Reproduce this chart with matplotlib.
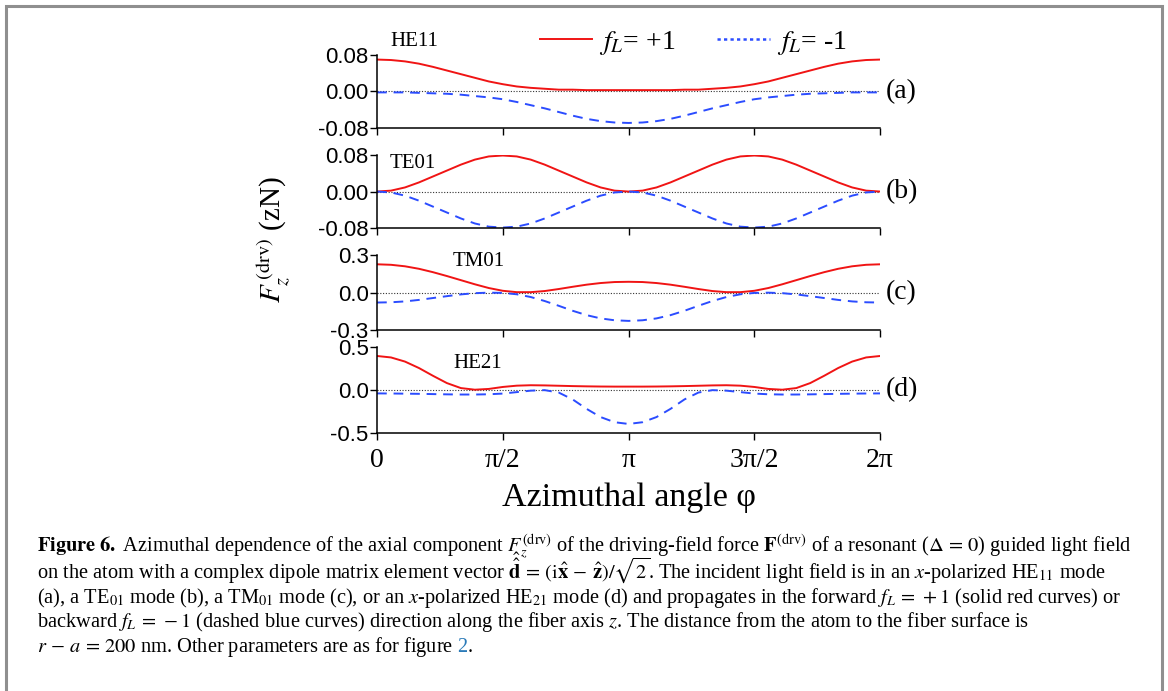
import numpy as np
import matplotlib
matplotlib.use("Agg")
import matplotlib.pyplot as plt
from matplotlib.lines import Line2D
from matplotlib.patches import Rectangle

plt.rcParams['font.family'] = 'Liberation Serif'
plt.rcParams['mathtext.fontset'] = 'stix'

# azimuthal angle grid (degrees), every 10 deg from 0 to 360
angle_deg = list(range(0, 361, 10))

# F_z^(drv) in zN, forward (f_L=+1) and backward (f_L=-1) for each mode
he11_fwd = [0.070, 0.069, 0.066, 0.061, 0.054, 0.046, 0.038, 0.030, 0.022, 0.016,
            0.011, 0.008, 0.006, 0.004, 0.004, 0.003, 0.003, 0.003, 0.003,
            0.003, 0.003, 0.003, 0.004, 0.004, 0.006, 0.008, 0.011, 0.016,
            0.022, 0.030, 0.038, 0.046, 0.054, 0.061, 0.066, 0.069, 0.070]
he11_bwd = [-0.002, -0.002, -0.002, -0.003, -0.004, -0.005, -0.007, -0.010, -0.013, -0.017,
            -0.023, -0.030, -0.037, -0.045, -0.053, -0.060, -0.065, -0.068, -0.069,
            -0.068, -0.065, -0.060, -0.053, -0.045, -0.037, -0.030, -0.023, -0.017,
            -0.013, -0.010, -0.007, -0.005, -0.004, -0.003, -0.002, -0.002, -0.002]
te01_fwd = [0.000, 0.002, 0.009, 0.020, 0.033, 0.046, 0.059, 0.070, 0.077, 0.079,
            0.077, 0.070, 0.059, 0.046, 0.033, 0.020, 0.009, 0.002, 0.000,
            0.002, 0.009, 0.020, 0.033, 0.046, 0.059, 0.070, 0.077, 0.079,
            0.077, 0.070, 0.059, 0.046, 0.033, 0.020, 0.009, 0.002, 0.000]
te01_bwd = [-0.000, -0.002, -0.009, -0.020, -0.033, -0.046, -0.059, -0.070, -0.077, -0.079,
            -0.077, -0.070, -0.059, -0.046, -0.033, -0.020, -0.009, -0.002, -0.000,
            -0.002, -0.009, -0.020, -0.033, -0.046, -0.059, -0.070, -0.077, -0.079,
            -0.077, -0.070, -0.059, -0.046, -0.033, -0.020, -0.009, -0.002, -0.000]
tm01_fwd = [0.226, 0.222, 0.210, 0.190, 0.163, 0.132, 0.099, 0.066, 0.036, 0.014,
            0.003, 0.003, 0.012, 0.028, 0.046, 0.063, 0.076, 0.084, 0.086,
            0.084, 0.076, 0.063, 0.046, 0.028, 0.012, 0.003, 0.003, 0.014,
            0.036, 0.066, 0.099, 0.132, 0.163, 0.190, 0.210, 0.222, 0.226]
tm01_bwd = [-0.080, -0.078, -0.071, -0.059, -0.044, -0.029, -0.015, -0.005, -0.001, -0.003,
            -0.014, -0.036, -0.068, -0.106, -0.146, -0.181, -0.207, -0.222, -0.227,
            -0.222, -0.207, -0.181, -0.146, -0.106, -0.068, -0.036, -0.014, -0.003,
            -0.001, -0.005, -0.015, -0.029, -0.044, -0.059, -0.071, -0.078, -0.080]
he21_fwd = [0.395, 0.378, 0.330, 0.255, 0.165, 0.080, 0.022, 0.003, 0.012, 0.035,
            0.050, 0.055, 0.053, 0.049, 0.045, 0.042, 0.040, 0.039, 0.039,
            0.039, 0.040, 0.042, 0.045, 0.049, 0.053, 0.055, 0.050, 0.035,
            0.012, 0.003, 0.022, 0.080, 0.165, 0.255, 0.330, 0.378, 0.395]
he21_bwd = [-0.040, -0.041, -0.043, -0.045, -0.048, -0.051, -0.053, -0.053, -0.050, -0.042,
            -0.025, -0.008, -0.002, -0.030, -0.110, -0.220, -0.315, -0.375, -0.395,
            -0.375, -0.315, -0.220, -0.110, -0.030, -0.002, -0.008, -0.025, -0.042,
            -0.050, -0.053, -0.053, -0.051, -0.048, -0.045, -0.043, -0.041, -0.040]

mode_names = ['HE11', 'TE01', 'TM01', 'HE21']
panel_tags = ['(a)', '(b)', '(c)', '(d)']
ytick_vals = [[-0.08, 0.0, 0.08], [-0.08, 0.0, 0.08], [-0.3, 0.0, 0.3], [-0.5, 0.0, 0.5]]
ytick_text = [['-0.08', '0.00', '0.08'], ['-0.08', '0.00', '0.08'],
              ['-0.3', '0.0', '0.3'], ['-0.5', '0.0', '0.5']]
xtick_text = ['0', 'π/2', 'π', '3π/2', '2π']

fwd_series = [he11_fwd, te01_fwd, tm01_fwd, he21_fwd]
bwd_series = [he11_bwd, te01_bwd, tm01_bwd, he21_bwd]

RED = '#f01414'
BLUE = '#2b4cff'

fig = plt.figure(figsize=(11.68, 6.91), dpi=100)

# panel rectangles in figure fraction
left, width = 0.3228, 0.4307
boxes = [(0.8148, 0.1056), (0.6700, 0.1056), (0.5224, 0.1085), (0.3734, 0.1245)]
name_pos = [(0.026, 1.18), (0.026, 0.89), (0.151, 0.91), (0.151, 0.81)]

phi = np.deg2rad(angle_deg)
axes = []
for i in range(4):
    ax = fig.add_axes([left, boxes[i][0], width, boxes[i][1]])
    axes.append(ax)
    lim = ytick_vals[i][2]
    ax.plot([0, 2 * np.pi], [0, 0], color='#333333', lw=0.8, ls=(0, (1, 1.5)))
    ax.plot(phi, fwd_series[i], color=RED, lw=1.4)
    ax.plot(phi, bwd_series[i], color=BLUE, lw=1.4, ls=(0, (5, 3.5)))
    ax.set_xlim(0, 2 * np.pi)
    ax.set_ylim(-lim, lim)
    for s in ['top', 'right']:
        ax.spines[s].set_visible(False)
    for s in ['left', 'bottom']:
        ax.spines[s].set_linewidth(1.1)
    ax.set_yticks(ytick_vals[i], ytick_text[i], family='Liberation Sans', fontsize=16)
    ax.set_xticks([0, np.pi / 2, np.pi, 3 * np.pi / 2, 2 * np.pi])
    ax.tick_params(direction='out', length=5, width=1.0)
    ax.tick_params(axis='y', pad=1)
    if i < 3:
        ax.tick_params(axis='x', labelbottom=False)
    else:
        ax.set_xticklabels(xtick_text, fontsize=20)
        ax.tick_params(axis='x', pad=6)
        ax.set_xlabel('Azimuthal angle φ', fontsize=24.5, labelpad=7)
    ax.text(name_pos[i][0], name_pos[i][1], mode_names[i], transform=ax.transAxes,
            fontsize=15, ha='left', va='center')
    ax.text(1.012, 0.0, panel_tags[i], transform=ax.get_yaxis_transform(),
            fontsize=20, ha='left', va='center')
    ax.patch.set_visible(False)

handles = [Line2D([], [], color=RED, lw=1.4),
           Line2D([], [], color=BLUE, lw=1.8, ls=(0, (1.3, 1.3)))]
fig.legend(handles, [r'$f_L$= +1', r'$f_L$= -1'], loc='center left',
           bbox_to_anchor=(0.462, 0.938), ncol=2, frameon=False, borderpad=0,
           borderaxespad=0, handlelength=1.9, handletextpad=0.25,
           columnspacing=1.5, fontsize=20)

fig.text(0.234, 0.653, r'$F_z^{\,(\mathrm{drv})}$ (zN)', rotation=90,
         fontsize=21, ha='center', va='center')

# caption block
cap_x = 37 / 1168
cap_fs = 14.7
cap_lines = [
    r'$\mathbf{Figure\ 6.}$ Azimuthal dependence of the axial component $F_z^{(\mathrm{drv})}$ '
    r'of the driving-field force $\mathbf{F}^{(\mathrm{drv})}$ of a resonant ($\Delta\, =\, 0$) guided light field',
    r'on the atom with a complex dipole matrix element vector $\hat{\hat{\mathbf{d}}}\, =\, (\mathrm{i}\hat{\mathbf{x}}\, -\, \hat{\mathbf{z}})/\sqrt{2}$'
    r'. The incident light field is in an $x$-polarized HE$_{11}$ mode',
    r'(a), a TE$_{01}$ mode (b), a TM$_{01}$ mode (c), or an $x$-polarized HE$_{21}$ mode (d) '
    r'and propagates in the forward $f_L\, =\, +1$ (solid red curves) or',
    r'backward $f_L\, =\, -1$ (dashed blue curves) direction along the fiber axis $z$. '
    r'The distance from the atom to the fiber surface is',
    r'$r\, -\, a\, =\, 200$ nm. Other parameters are as for figure',
]
cap_base = [552, 578, 603, 627, 652]
texts = []
for line, yb in zip(cap_lines, cap_base):
    texts.append(fig.text(cap_x, 1 - yb / 691, line, fontsize=cap_fs,
                          ha='left', va='baseline'))

rend = fig.canvas.get_renderer()
bb = texts[-1].get_window_extent(renderer=rend)
x2 = (bb.x1 + 4) / fig.bbox.width
t2 = fig.text(x2, 1 - cap_base[-1] / 691, '2', color='#2a7ab8', fontsize=cap_fs,
              ha='left', va='baseline')
bb2 = t2.get_window_extent(renderer=rend)
fig.text(bb2.x1 / fig.bbox.width, 1 - cap_base[-1] / 691, '.', fontsize=cap_fs,
         ha='left', va='baseline')

# frame around the figure
fig.add_artist(Rectangle((6 / 1168, -0.1), 1156 / 1168, 0.1 + 1 - 6 / 691,
                         transform=fig.transFigure, fill=False,
                         edgecolor='#8f8f8f', lw=2.2))

fig.savefig('out.png', dpi=100)
